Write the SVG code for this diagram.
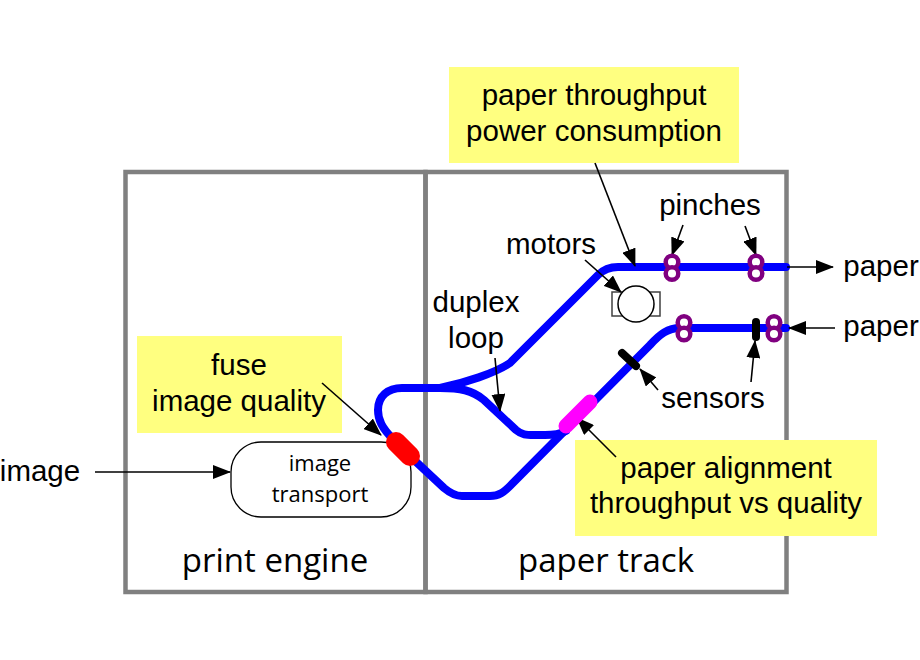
<svg xmlns="http://www.w3.org/2000/svg" width="920" height="660" viewBox="0 0 920 660">
<defs>
<marker id="arr" markerUnits="userSpaceOnUse" markerWidth="18" markerHeight="14" refX="17" refY="7" orient="auto"><path d="M0,0L18,7L0,14Z" fill="#000"/></marker>
</defs>
<style>
text{font-family:"Liberation Sans",Arial,sans-serif;font-size:29.500px;fill:#000;text-anchor:middle}
.c{font-family:"Open Sans","DejaVu Sans",sans-serif}
.big{font-size:33px}
.small{font-size:22px}
.note{fill:#ffff80;stroke:none}
.track{fill:none;stroke:#0000ff;stroke-width:8;stroke-linecap:round}
.a{fill:none;stroke:#000;stroke-width:1.600;marker-end:url(#arr)}
.pinch{fill:#fff;stroke:#800080;stroke-width:4.500}
.frame{fill:none;stroke:#808080;stroke-width:4.500}
</style>
<rect width="920" height="660" fill="#fff"/>
<g id="print-engine"><rect class="frame" x="125.500" y="172" width="300" height="420"/><text class="c big" x="275" y="572">print engine</text></g>
<g id="paper-track"><rect class="frame" x="425.500" y="172" width="361" height="420"/><text class="c big" x="606" y="572">paper track</text></g>
<g id="image-transport"><rect x="231" y="442" width="180" height="75" rx="30" fill="#fff" stroke="#000" stroke-width="1.300"/><text class="c small" x="320" y="471">image</text><text class="c small" x="320" y="502">transport</text></g>
<g id="notes">
<g id="note-throughput"><rect class="note" x="449" y="67" width="290" height="96"/><text x="594" y="105">paper throughput</text><text x="594" y="141">power consumption</text></g>
<g id="note-fuse"><rect class="note" x="137" y="336" width="205" height="97"/><text x="239" y="375">fuse</text><text x="239" y="411">image quality</text></g>
<g id="note-alignment"><rect class="note" x="575" y="440" width="302" height="96"/><text x="726" y="478">paper alignment</text><text x="726" y="513">throughput vs quality</text></g>
</g>
<g id="motor"><rect x="612" y="292" width="48" height="24" fill="#fff" stroke="#404040" stroke-width="1.500"/><circle cx="636" cy="304" r="18" fill="#fff" stroke="#000" stroke-width="1.500"/></g>
<g id="connectors">
<path class="track" d="M393,439C382,428 378,420 378,410C378,396 388,388 402,388L440,388C465,383 495,373 510,363L598,275C604,269 610,267 618,267L786,267"/>
<path class="track" d="M440,388C460,388 472,390 484,400L516,430C522,435 526,435 534,435L545,435C552,435 560,434 566,431"/>
<path class="track" d="M413,459L444,488C450,493 455,496 462,496L490,496C499,496 504,492 510,486L650,345C660,334 668,328 680,328L786,328"/>
<path class="a" d="M95,472L230,472"/>
<path class="a" d="M787,267L833,267"/>
<path class="a" d="M835,328L789,328"/>
<path class="a" d="M595,163L635,266"/>
<path class="a" d="M585,260L621,292"/>
<path class="a" d="M683,225L672,255"/>
<path class="a" d="M745,226L756,255"/>
<path class="a" d="M495,358L500,411"/>
<path class="a" d="M322,383L381,435"/>
<path class="a" d="M658,390L640,369"/>
<path class="a" d="M616,457L577,418"/>
<path class="a" d="M751,382L755,341"/>
</g>
<g id="fuse"><path d="M396,442L410,456" fill="none" stroke="#ff0000" stroke-width="20" stroke-linecap="round"/></g>
<g id="alignment"><path d="M566,426L590,402" fill="none" stroke="#ff00ff" stroke-width="15" stroke-linecap="round"/></g>
<g id="sensor-1"><path d="M622,353L636,366" fill="none" stroke="#000" stroke-width="8" stroke-linecap="round"/></g>
<g id="sensor-2"><path d="M756,322L756,337" fill="none" stroke="#000" stroke-width="8" stroke-linecap="round"/></g>
<g id="pinch-1"><circle class="pinch" cx="672" cy="262" r="6.300"/><circle class="pinch" cx="672" cy="273.500" r="6.300"/></g>
<g id="pinch-2"><circle class="pinch" cx="756" cy="262" r="6.300"/><circle class="pinch" cx="756" cy="273.500" r="6.300"/></g>
<g id="pinch-3"><circle class="pinch" cx="684" cy="322.500" r="6.300"/><circle class="pinch" cx="684" cy="334" r="6.300"/></g>
<g id="pinch-4"><circle class="pinch" cx="774" cy="322.500" r="6.300"/><circle class="pinch" cx="774" cy="334" r="6.300"/></g>
<g id="labels">
<text x="40" y="481">image</text>
<text x="881" y="276">paper</text>
<text x="881" y="336">paper</text>
<text x="710" y="215">pinches</text>
<text x="551" y="254">motors</text>
<text x="476" y="312">duplex</text>
<text x="476" y="348">loop</text>
<text x="713" y="408">sensors</text>
</g>
</svg>
